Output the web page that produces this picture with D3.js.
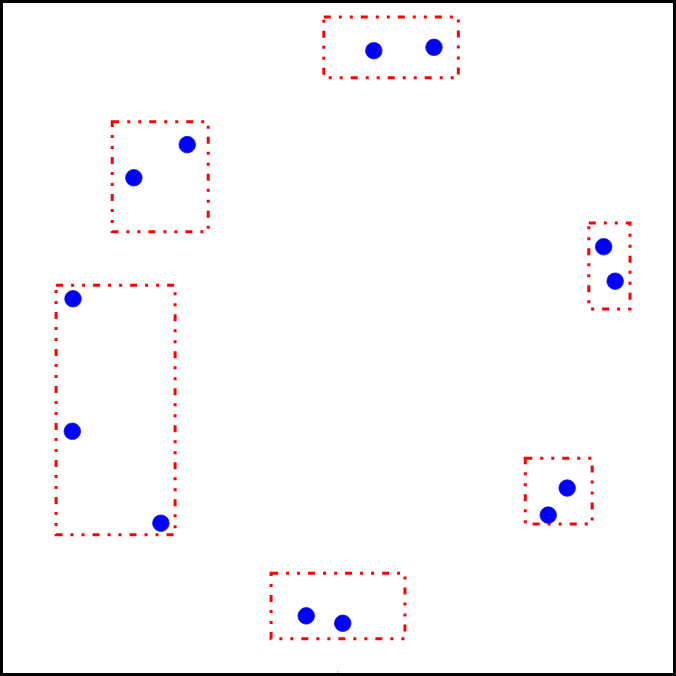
<!DOCTYPE html>
<html><head><meta charset="utf-8">
<script src="https://cdn.jsdelivr.net/npm/d3@7"></script>
<style>html,body{margin:0;padding:0;background:#fff}svg{display:block}</style>
</head><body>
<script>
const groups = ["A","B","C","D","E","F"];
const pointGroup = ["A","A","B","B","C","C","D","D","D","E","E","F","F"];
const pointX = [55.3,64.2,19.8,27.7,89.3,91.0,10.8,10.7,23.8,83.9,81.1,45.3,50.7];
const pointY = [92.5,93.0,73.7,78.6,63.5,58.4,55.8,36.2,22.6,27.8,23.8,8.9,7.8];
const boxX0 = [47.9,16.6,87.1,8.3,77.7,40.1];
const boxX1 = [67.8,30.8,93.2,25.9,87.6,59.9];
const boxY0 = [88.5,65.7,54.3,20.9,22.5,5.5];
const boxY1 = [97.5,82.0,67.0,57.8,32.2,15.2];

const W = 676, H = 676;
const x = d3.scaleLinear().domain([0,100]).range([0,W]);
const y = d3.scaleLinear().domain([0,100]).range([H,0]);
const svg = d3.select("body").append("svg").attr("width",W).attr("height",H);
svg.append("rect").attr("width",W).attr("height",H).attr("fill","#fff");

svg.append("g").selectAll("rect").data(groups).join("rect")
  .attr("x",(d,i)=>x(boxX0[i])).attr("y",(d,i)=>y(boxY1[i]))
  .attr("width",(d,i)=>x(boxX1[i])-x(boxX0[i]))
  .attr("height",(d,i)=>y(boxY0[i])-y(boxY1[i]))
  .attr("fill","none").attr("stroke","#ff0000").attr("stroke-width",3)
  .attr("stroke-dasharray","7,8,3,8,3,8");

svg.append("g").selectAll("circle").data(pointX).join("circle")
  .attr("cx",(d,i)=>x(pointX[i])).attr("cy",(d,i)=>y(pointY[i]))
  .attr("r",8.3).attr("fill","#0000ff").attr("stroke","#1a1acc").attr("stroke-width",0.8);

svg.append("line").attr("x1",x(50)).attr("x2",x(50)).attr("y1",H-5).attr("y2",H)
  .attr("stroke","#bbb").attr("stroke-width",1);
svg.append("rect").attr("x",1.5).attr("y",1.5).attr("width",W-3).attr("height",H-3)
  .attr("fill","none").attr("stroke","#000").attr("stroke-width",3);
</script>
</body></html>
